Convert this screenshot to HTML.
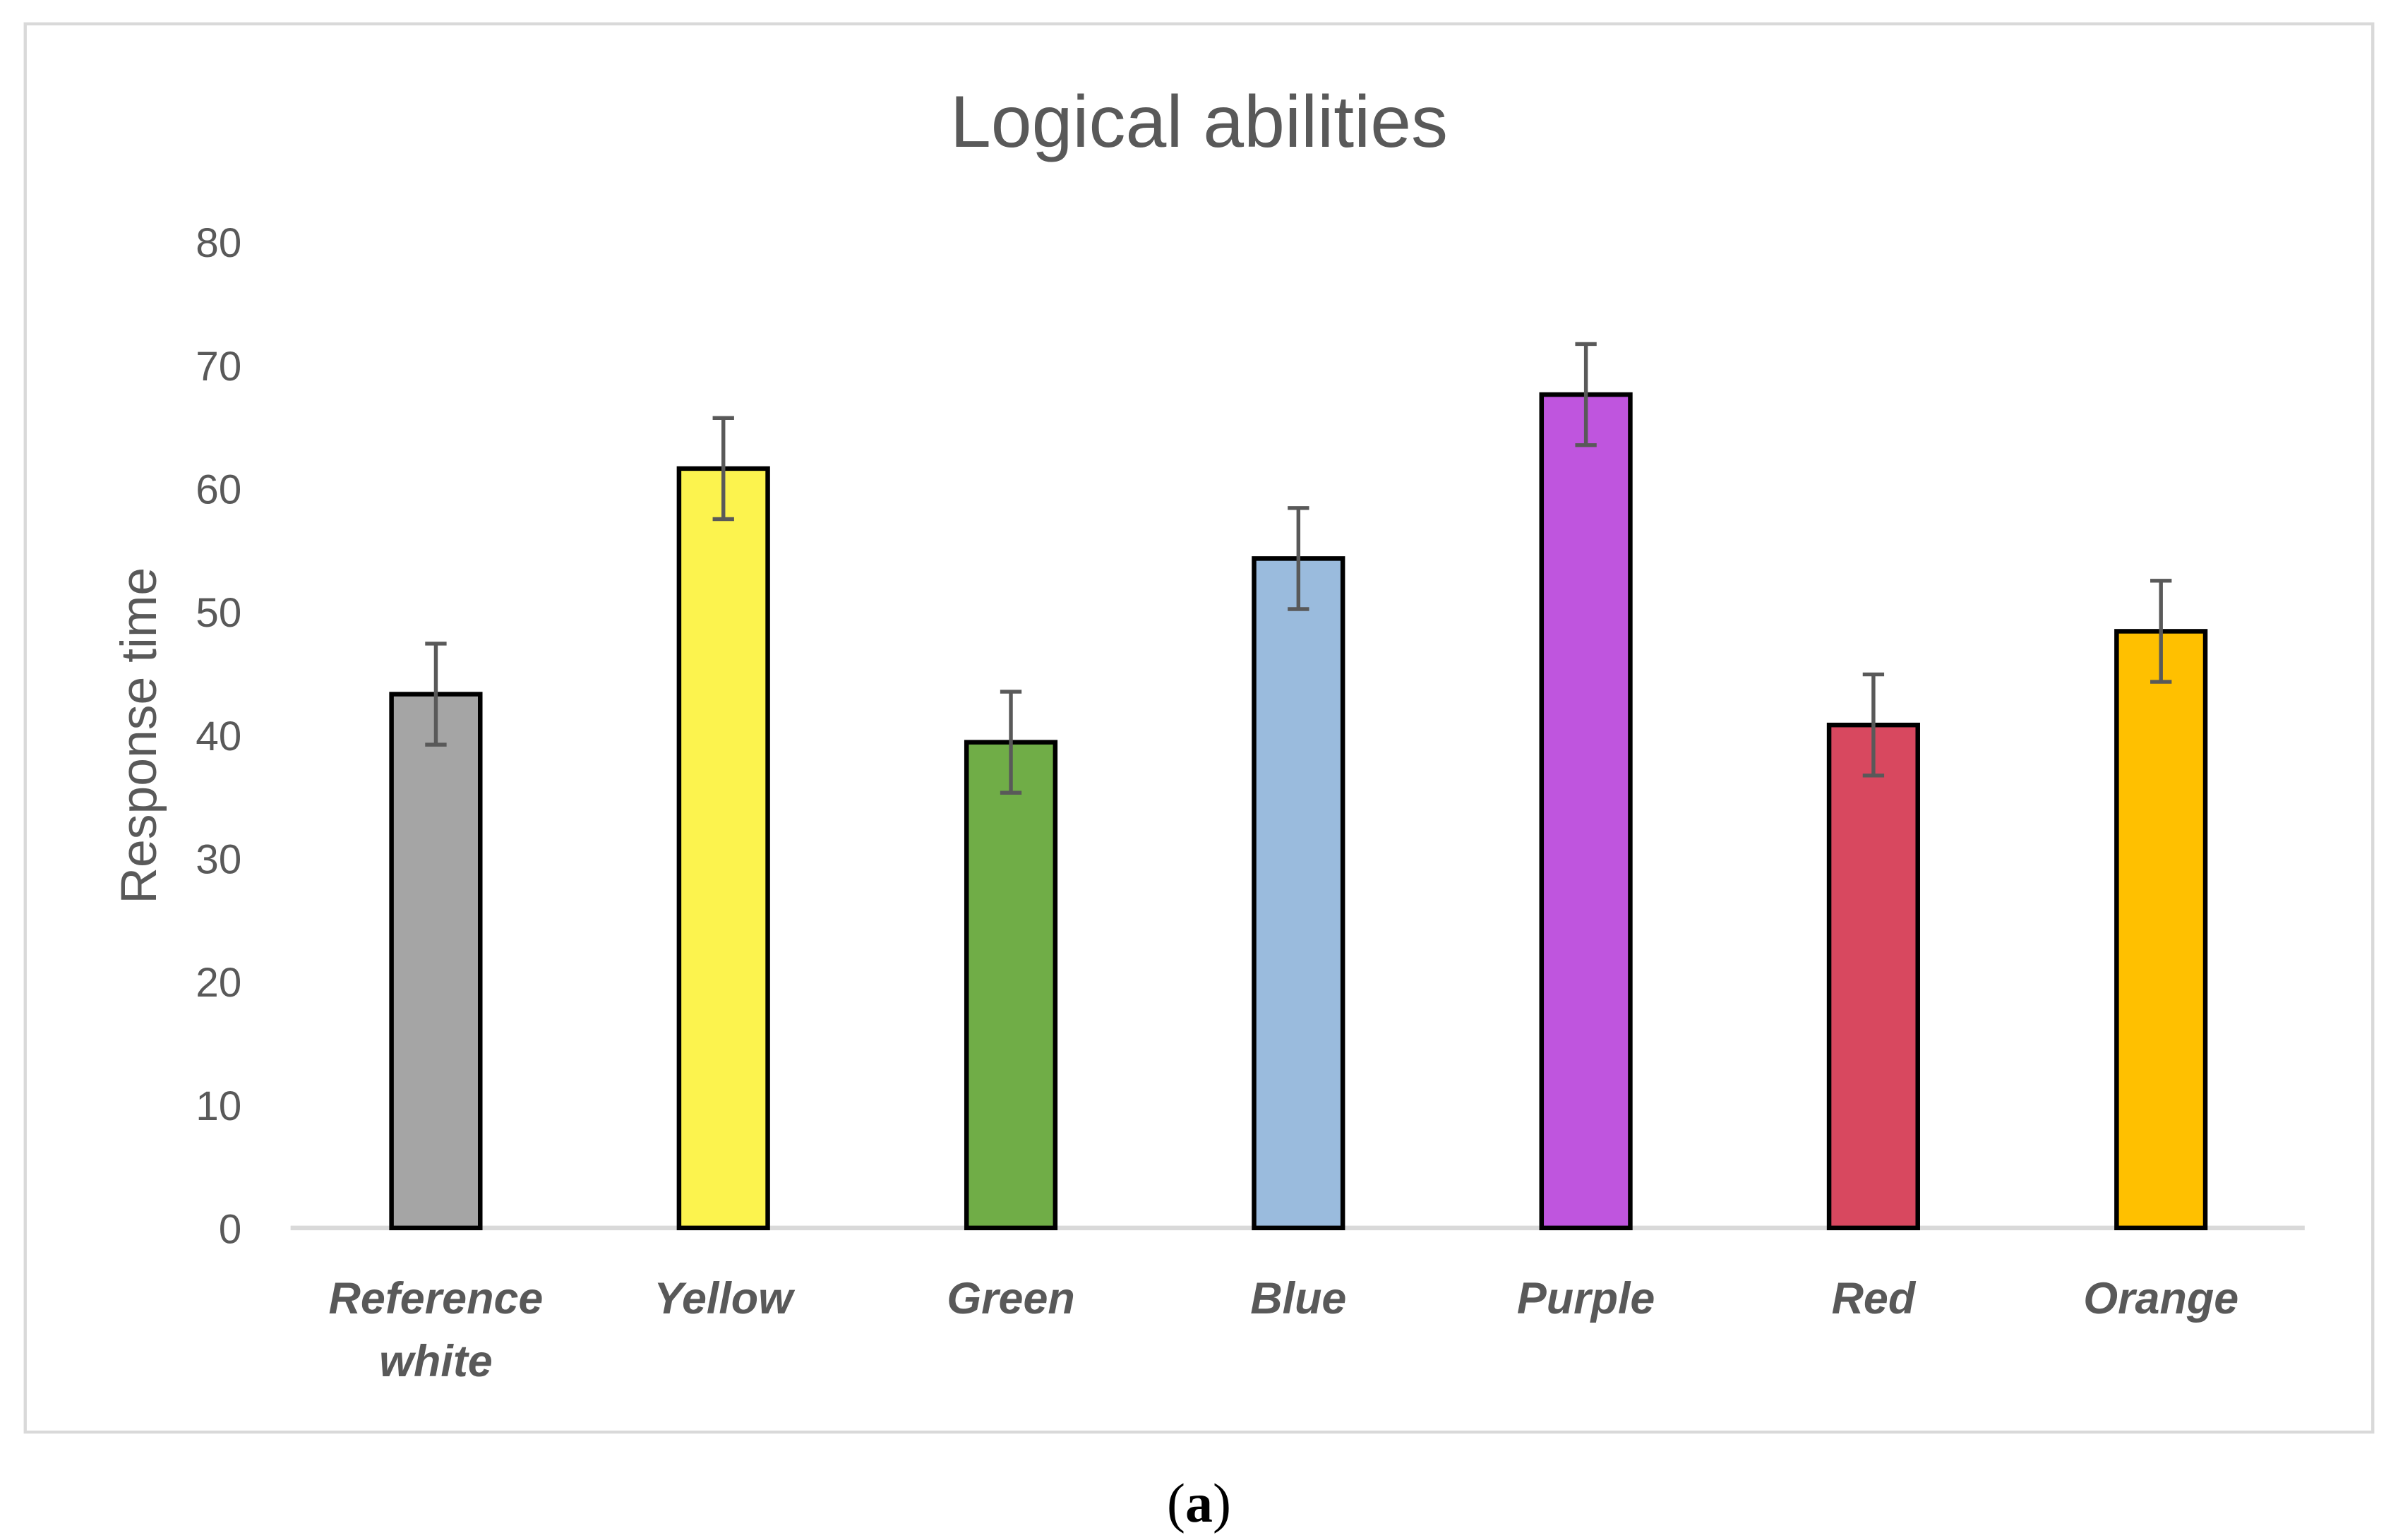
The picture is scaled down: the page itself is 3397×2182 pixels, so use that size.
<!DOCTYPE html>
<html><head><meta charset="utf-8"><style>
html,body{margin:0;padding:0;background:#fff;}
svg{display:block;}
text{font-family:"Liberation Sans",sans-serif;fill:#595959;}
</style></head><body>
<svg width="3397" height="2182" viewBox="0 0 1568 1007">
<rect x="16.5" y="15.5" width="1535" height="921" fill="#fff" stroke="#d9d9d9" stroke-width="2"/>
<text x="784" y="96" text-anchor="middle" font-size="48">Logical abilities</text>
<text transform="translate(102,481) rotate(-90)" text-anchor="middle" font-size="33">Response time</text>
<g id="yt"></g>
<line x1="190" y1="803" x2="1507" y2="803" stroke="#d9d9d9" stroke-width="3"/>
<g id="bars"></g>
<g id="xl"></g>
<text x="784" y="995" text-anchor="middle" font-size="36" style="font-family:'Liberation Serif',serif;fill:#000">(<tspan font-weight="bold">a</tspan>)</text>
</svg>
<script>
const categories=[["Reference","white"],["Yellow"],["Green"],["Blue"],["Purple"],["Red"],["Orange"]];
const values=[43.3,61.6,39.4,54.3,67.6,40.8,48.4];
const errors=[4.1,4.1,4.1,4.1,4.1,4.1,4.1];
const colors=["#a5a5a5","#fcf34e","#70ad47","#9abbdd","#bf55de","#d8485f","#ffc000"];
const yTicks=[0,10,20,30,40,50,60,70,80];
const NS="http://www.w3.org/2000/svg";
const y=v=>803-v*(803-158)/80;
const x=i=>285+i*188;
function mk(t,a,p){const e=document.createElementNS(NS,t);for(const k in a)e.setAttribute(k,a[k]);p.appendChild(e);return e;}
const yt=document.getElementById('yt'),bars=document.getElementById('bars'),xl=document.getElementById('xl');
yTicks.forEach(v=>{const t=mk('text',{x:158,y:y(v)+10,'text-anchor':'end','font-size':27},yt);t.textContent=v;

});
values.forEach((v,i)=>{
const r=mk('rect',{x:x(i)-29,y:y(v),width:58,height:803-y(v),fill:colors[i],stroke:'#000','stroke-width':3},bars);


const g=mk('g',{stroke:'#595959','stroke-width':2.5},bars);


const hi=y(v+errors[i]),lo=y(v-errors[i]);
mk('line',{x1:x(i),x2:x(i),y1:hi,y2:lo},g);
mk('line',{x1:x(i)-7,x2:x(i)+7,y1:hi,y2:hi},g);
mk('line',{x1:x(i)-7,x2:x(i)+7,y1:lo,y2:lo},g);
categories[i].forEach((s,j)=>{const t=mk('text',{x:x(i),y:859+j*41,'text-anchor':'middle','font-size':29,'font-weight':'bold','font-style':'italic'},xl);t.textContent=s;

});
});
</script>
</body></html>
